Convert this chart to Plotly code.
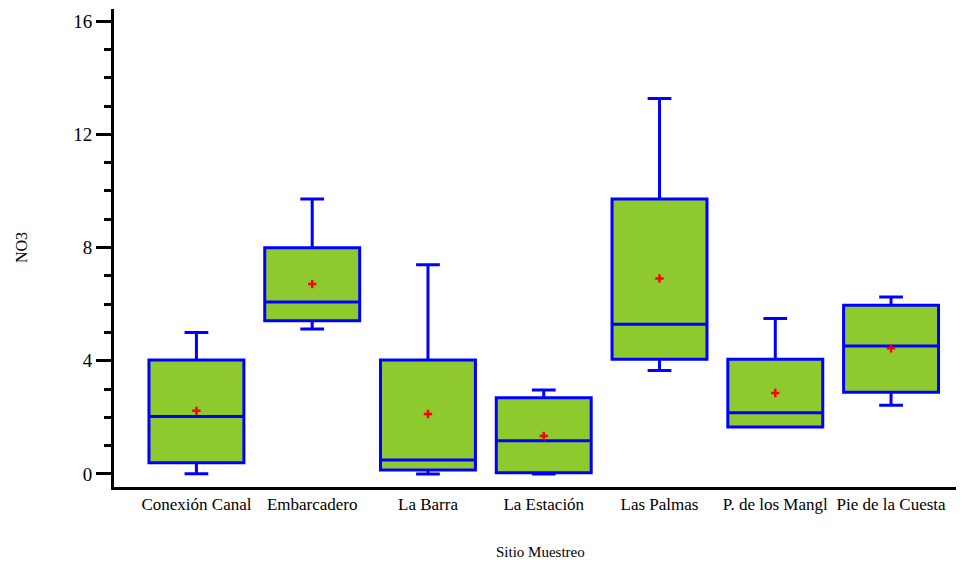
import plotly.graph_objects as go

sites = ["Conexión Canal", "Embarcadero", "La Barra", "La Estación",
         "Las Palmas", "P. de los Mangl", "Pie de la Cuesta"]
lower = [0.01, 5.12, 0.0, 0.0, 3.66, 1.66, 2.43]
q1 = [0.40, 5.41, 0.14, 0.04, 4.05, 1.66, 2.89]
median = [2.03, 6.08, 0.49, 1.17, 5.29, 2.16, 4.52]
q3 = [4.03, 7.99, 4.03, 2.69, 9.72, 4.05, 5.96]
upper = [5.00, 9.72, 7.39, 2.97, 13.27, 5.49, 6.25]
means = [2.23, 6.71, 2.12, 1.34, 6.91, 2.86, 4.44]

# page has an 8px body margin, so the figure is offset by 8px in the window
OFF = 8
W, H = 964 - OFF, 566 - OFF
L, T, B = 114 - OFF, 9 - OFF, 79

fig = go.Figure()
fig.add_trace(go.Box(
    x=sites, q1=q1, median=median, q3=q3,
    lowerfence=lower, upperfence=upper,
    fillcolor="#8ECA2E", line=dict(color="#0000FF", width=3),
    width=0.82, whiskerwidth=0.25, boxpoints=False, showlegend=False,
    hoverinfo="skip",
))
fig.add_trace(go.Scatter(
    x=sites, y=means, mode="markers", showlegend=False,
    marker=dict(symbol="cross-thin", size=6, color="red",
                line=dict(color="red", width=2.5)),
))

font = "Liberation Serif, Times New Roman, serif"
pw, ph = W - L, H - T - B


def px(x, y):
    # window pixel -> paper coords
    return (x - OFF - L) / pw, (H - B - (y - OFF)) / ph


ax, ay = px(21, 248)
bx, by = px(540, 552)
fig.update_layout(
    width=W, height=H,
    margin=dict(l=L, r=0, t=T, b=B),
    paper_bgcolor="white", plot_bgcolor="white",
    font=dict(family=font, color="black"),
    annotations=[
        dict(text="NO3", x=ax, y=ay, xref="paper", yref="paper", showarrow=False,
             xanchor="center", yanchor="middle",
             textangle=-90, font=dict(size=16, family=font)),
        dict(text="Sitio Muestreo", x=bx, y=by, xref="paper", yref="paper",
             xanchor="center", yanchor="middle",
             showarrow=False, font=dict(size=15, family=font)),
    ],
)

fig.update_xaxes(
    type="category", categoryorder="array", categoryarray=sites,
    range=[-0.712, 6.63], showline=True, linecolor="black", linewidth=3,
    ticks="", showgrid=False, zeroline=False, automargin=False,
    tickfont=dict(size=17, family=font),
)
fig.update_yaxes(
    range=[-0.46, 16.43], showline=True, linecolor="black", linewidth=3,
    tickvals=[0, 4, 8, 12, 16], ticks="outside", ticklen=15, tickwidth=3,
    tickcolor="black", showgrid=False, zeroline=False, automargin=False,
    minor=dict(dtick=1, ticks="outside", ticklen=7, tickwidth=3, tickcolor="black", showgrid=False),
    tickfont=dict(size=19, family=font),
)
fig.write_html("out.html")
